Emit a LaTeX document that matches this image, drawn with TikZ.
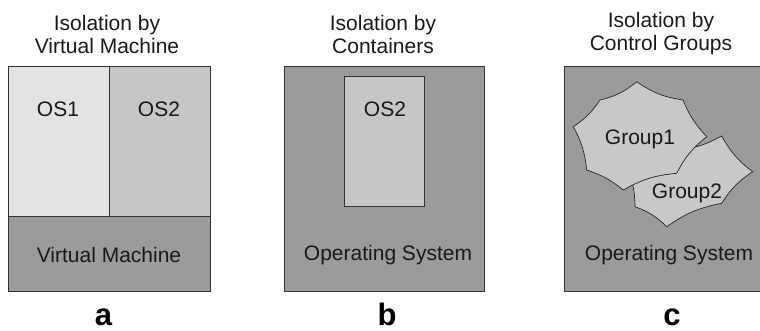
\documentclass[tikz,border=0pt]{standalone}
\usepackage{fontspec}
\setmainfont{Liberation Sans}
\begin{document}
\begin{tikzpicture}[x=1pt,y=-1pt,
  lbl/.style={font=\fontsize{21}{23}\selectfont, inner sep=0pt, align=center, text=black!90},
  letter/.style={font=\fontsize{31}{31}\selectfont\bfseries, inner sep=0pt, anchor=base},
  box/.style={draw=black!80, line width=0.8pt},
  blob/.style={draw=black!85, line width=0.7pt, fill=blobgray}]
\definecolor{darkgray}{HTML}{9B9B9B}
\definecolor{lightos}{HTML}{E3E3E3}
\definecolor{midos}{HTML}{C6C6C6}
\definecolor{blobgray}{HTML}{C8C8C8}
\useasboundingbox (0,0) rectangle (760,331);
% ---------- panel a
\node[box, fill=lightos, minimum width=101pt, minimum height=150pt, anchor=north west, inner sep=0pt] (os1) at (8,66) {};
\node[box, fill=midos, minimum width=101pt, minimum height=150pt, anchor=north west, inner sep=0pt] (os2a) at (109,66) {};
\node[box, fill=darkgray, minimum width=202pt, minimum height=75pt, anchor=north west, inner sep=0pt] (vm) at (8,216) {};
\node[lbl] (os1t) at (58,109) {OS1};
\node[lbl] (os2at) at (159,109) {OS2};
\node[lbl] (vmt) at (109,255) {Virtual Machine};
\node[lbl] (tita) at (107,34) {Isolation by\\Virtual Machine};
\node[letter] (la) at (103.5,325) {a};
% ---------- panel b
\node[box, fill=darkgray, minimum width=200pt, minimum height=225pt, anchor=north west, inner sep=0pt] (osb) at (284,66) {};
\node[box, fill=midos, minimum width=80pt, minimum height=130pt, anchor=north west, inner sep=0pt] (cont) at (344,76) {};
\node[lbl] (os2bt) at (385,109) {OS2};
\node[lbl] (osbt) at (388,255) {Operating System};
\node[lbl] (titb) at (383,34) {Isolation by\\Containers};
\node[letter] (lb) at (387,325) {b};
% ---------- panel c
\node[box, fill=darkgray, minimum width=197pt, minimum height=225pt, anchor=north west, inner sep=0pt] (osc) at (564,66) {};
\draw[blob] (721.7,136) to[bend right=12] (752.7,171.7) to[bend right=12] (721.7,203.3)
  to[bend right=12] (666.7,226.7) to[bend right=12] (635,206.7) to[bend right=6] (631.7,180)
  to[bend right=6] (680,150) to[bend right=10] cycle;
\draw[blob] (636.7,81.7) to[bend right=13] (683,100) to[bend right=10] (706.7,136.7)
  to[bend right=12] (676.7,173.3) to[bend right=12] (623.3,190) to[bend right=10] (586.7,170)
  to[bend right=11] (573.3,126.7) to[bend right=11] (600,100) to[bend right=13] cycle;
\node[lbl] (g1) at (640,139) {Group1};
\node[lbl] (g2) at (687,193) {Group2};
\node[lbl] (osct) at (669,255) {Operating System};
\node[lbl] (titc) at (661,34) {Isolation by\\Control Groups};
\node[letter] (lc) at (672,325) {c};
\end{tikzpicture}
\end{document}
